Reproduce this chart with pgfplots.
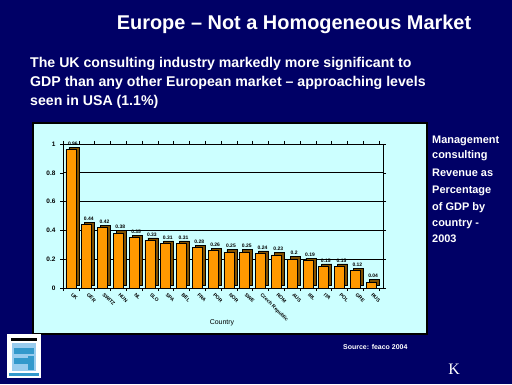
\documentclass[border=0pt]{standalone}
\usepackage{pgfplots}
\pgfplotsset{compat=1.18}
\usepackage{fontspec}
\setmainfont{Liberation Sans}
\newfontfamily\serifk{Liberation Serif}
\definecolor{navy}{HTML}{000066}
\definecolor{cyanbg}{HTML}{CCFFFF}
\definecolor{barorange}{HTML}{FF9900}
\definecolor{barside}{HTML}{805000}
\definecolor{logoblue}{HTML}{3399CC}
\definecolor{logolight}{HTML}{99CCEE}
\begin{document}
\begin{tikzpicture}
\begin{scope}[x=1bp,y=1bp]
\useasboundingbox (0,0) rectangle (512,384);
\fill[navy] (0,0) rectangle (512,384);
% title
\node[white,anchor=base,font=\fontsize{20}{24}\selectfont\bfseries,inner sep=0] at (294,355) {Europe -- Not a Homogeneous Market};
% subtitle
\begin{scope}[every node/.style={white,anchor=base west,inner sep=0,font=\fontsize{14.2}{16}\selectfont\bfseries}]
\node at (30,317) {The UK consulting industry markedly more significant to};
\node at (30,298) {GDP than any other European market -- approaching levels};
\node at (30,279) {seen in USA (1.1\%)};
\end{scope}
% chart box
\filldraw[fill=cyanbg,draw=black,line width=1.5bp] (33,50) rectangle (427,261);
\end{scope}
\begin{axis}[
  at={(63bp,96bp)}, anchor=south west,
  scale only axis, width=320bp, height=144bp,
  xmin=-0.5, xmax=19.75, ymin=0, ymax=1,
  axis line style={black,line width=0.8bp},
  ytick={0,0.2,0.4,0.6,0.8,1},
  yticklabels={0,0.2,0.4,0.6,0.8,1},
  ymajorgrids, grid style={black,line width=0.8bp},
  tick align=outside,
  major tick length=3bp, minor tick length=3bp,
  tick style={black,line width=0.6bp},
  xtick={0,...,19},
  major x tick style={draw=none},
  minor xtick={-0.5,0.5,...,19.5},
  xticklabels={UK,GER,SWITZ,HUN,NL,SLO,SPA,BEL,FRA,POR,NOR,SWE,Czech Republic,ROM,AUS,IRL,ITA,POL,GRE,RUS},
  x tick label style={rotate=-45,anchor=north west,xshift=2bp,yshift=1bp,inner sep=0.5bp,font=\fontsize{5}{5}\selectfont\bfseries},
  y tick label style={font=\fontsize{6.5}{7}\selectfont\bfseries,xshift=-1bp},
  ybar, bar width=10bp,
  clip=false,
]
\addplot[fill=barside,draw=black,line width=0.6bp,bar shift=3bp,yshift=2.5bp] coordinates {
(0,0.96)(1,0.44)(2,0.42)(3,0.38)(4,0.35)(5,0.33)(6,0.31)(7,0.31)(8,0.28)(9,0.26)
(10,0.25)(11,0.25)(12,0.24)(13,0.23)(14,0.20)(15,0.19)(16,0.15)(17,0.15)(18,0.12)(19,0.04)};
\addplot[fill=barorange,draw=black,line width=0.6bp,bar shift=0bp,
  point meta=explicit symbolic,
  nodes near coords,
  every node near coord/.append style={black,font=\fontsize{5}{5}\selectfont\bfseries,xshift=2bp,yshift=3bp,inner sep=1bp}] coordinates {
(0,0.96)[0.96] (1,0.44)[0.44] (2,0.42)[0.42] (3,0.38)[0.38] (4,0.35)[0.35]
(5,0.33)[0.33] (6,0.31)[0.31] (7,0.31)[0.31] (8,0.28)[0.28] (9,0.26)[0.26]
(10,0.25)[0.25] (11,0.25)[0.25] (12,0.24)[0.24] (13,0.23)[0.23] (14,0.20)[0.2]
(15,0.19)[0.19] (16,0.15)[0.15] (17,0.15)[0.15] (18,0.12)[0.12] (19,0.04)[0.04]};
\end{axis}
\begin{scope}[x=1bp,y=1bp]
\node[black,font=\fontsize{7}{8}\selectfont] at (222,61) {Country};
% right text
\begin{scope}[every node/.style={white,anchor=base west,inner sep=0,font=\fontsize{11}{12}\selectfont\bfseries}]
\node at (432,241) {Management};
\node at (432,226) {consulting};
\node at (432,208) {Revenue as};
\node at (432,191) {Percentage};
\node at (432,174) {of GDP by};
\node at (432,158) {country -};
\node at (432,142) {2003};
\end{scope}
% source
\node[white,anchor=base west,inner sep=0,font=\fontsize{7}{8}\selectfont\bfseries] at (343,35) {Source: feaco 2004};
% logo
\fill[white] (7,6) rectangle (41,50);
\fill[logolight] (12,13) rectangle (36,41);
\fill[logoblue] (14,30) rectangle (34,36);
\fill[logoblue] (14,20) rectangle (30,26);
\fill[logoblue] (28,14) rectangle (34,28);
\fill[black] (11,43) rectangle (37,46);
\fill[logoblue] (9,8) rectangle (39,11);
% K
\node[white,inner sep=0,font=\serifk\fontsize{16}{16}\selectfont] at (454,15) {K};
\end{scope}
\end{tikzpicture}
\end{document}
